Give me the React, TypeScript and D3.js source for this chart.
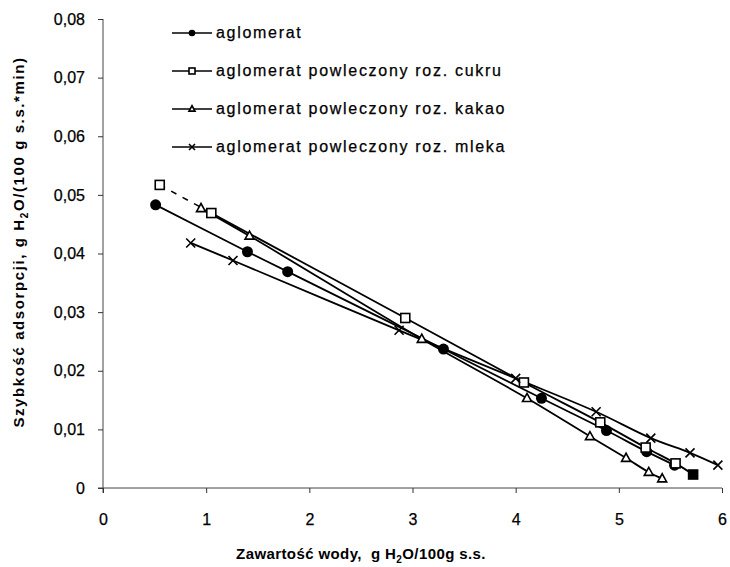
import * as d3 from 'd3';
import React, { useRef, useEffect } from 'react';

const aglomeratX = [0.51, 1.40, 1.79, 3.30, 4.25, 4.88, 5.27, 5.54]
const aglomeratY = [0.0483, 0.0403, 0.0369, 0.0237, 0.0153, 0.0098, 0.0062, 0.0039]

const cukruX = [0.55, 1.05, 2.93, 4.08, 4.82, 5.26, 5.55, 5.72]
const cukruY = [0.0517, 0.0469, 0.0290, 0.0180, 0.0112, 0.0069, 0.0042, 0.0023]

const kakaoX = [0.95, 1.42, 3.09, 4.11, 4.72, 5.07, 5.29, 5.42]
const kakaoY = [0.0477, 0.0430, 0.0254, 0.0153, 0.0088, 0.0051, 0.0027, 0.0016]

const mlekaX = [0.85, 1.26, 2.87, 4.00, 4.78, 5.31, 5.69, 5.96]
const mlekaY = [0.0418, 0.0388, 0.0269, 0.0187, 0.0130, 0.0085, 0.0060, 0.0039]

const seriesNames = [
    'aglomerat',
    'aglomerat powleczony roz. cukru',
    'aglomerat powleczony roz. kakao',
    'aglomerat powleczony roz. mleka',
]
const markers = ['circle', 'square', 'triangle', 'cross']

const xTicks = [0, 1, 2, 3, 4, 5, 6]
const yTicks = [0, 0.01, 0.02, 0.03, 0.04, 0.05, 0.06, 0.07, 0.08]

const zip = (xs: number[], ys: number[]) => xs.map((x, i) => ({ x, y: ys[i] }))

export default function App() {
    const ref = useRef<HTMLDivElement>(null)

    useEffect(() => {
        const width = 730
        const height = 567
        const font = '"Liberation Sans", Arial, sans-serif'

        document.body.style.margin = '0'
        d3.select(ref.current).selectAll('svg').remove()

        const svg = d3.select(ref.current)
            .append('svg')
            .attr('width', width)
            .attr('height', height)
            .style('display', 'block')
            .style('background', '#fff')
            .style('font-family', font)

        const x = d3.scaleLinear().domain([0, 6]).range([103, 722])
        const y = d3.scaleLinear().domain([0, 0.08]).range([488, 19])

        // osie
        const yAxis = d3.axisLeft(y)
            .tickValues(yTicks)
            .tickSize(5)
            .tickPadding(13)
            .tickFormat(d => d === 0 ? '0' : d3.format('.2f')(d as number).replace('.', ','))

        svg.append('g')
            .attr('transform', `translate(${x(0)},0)`)
            .call(yAxis)
            .call(g => g.select('.domain').attr('d', `M0,${y(0.08)}V${y(0) + 5}`).attr('stroke', '#444'))
            .call(g => g.selectAll('.tick line').attr('stroke', '#333'))
            .call(g => g.selectAll('text')
                .style('font-size', '16px')
                .style('font-family', font)
                .attr('fill', '#000')
                .attr('stroke', '#000')
                .attr('stroke-width', 0.25))

        const xAxis = d3.axisBottom(x)
            .tickValues(xTicks)
            .tickSize(5)
            .tickPadding(21)
            .tickFormat(d3.format('d'))

        svg.append('g')
            .attr('transform', `translate(0,${y(0)})`)
            .call(xAxis)
            .call(g => g.select('.domain').attr('d', `M${x(0) - 5},0H${x(6)}`).attr('stroke', '#444'))
            .call(g => g.selectAll('.tick line').attr('stroke', '#333'))
            .call(g => g.selectAll('text')
                .style('font-size', '16px')
                .style('font-family', font)
                .attr('fill', '#000')
                .attr('stroke', '#000')
                .attr('stroke-width', 0.25))

        // tytuły osi
        const yTitle = svg.append('text')
            .attr('transform', `translate(24,${242}) rotate(-90)`)
            .attr('text-anchor', 'middle')
            .style('font-size', '15px')
            .style('font-weight', 'bold')
            .style('letter-spacing', '1.6px')
        yTitle.append('tspan').text('Szybkość adsorpcji, g H')
        yTitle.append('tspan').attr('dy', 4).style('font-size', '10px').text('2')
        yTitle.append('tspan').attr('dy', -4).text('O/(100 g s.s.*min)')

        const xTitle = svg.append('text')
            .attr('x', 361)
            .attr('y', 559)
            .attr('text-anchor', 'middle')
            .style('font-size', '15px')
            .style('font-weight', 'bold')
            .style('letter-spacing', '0.4px')
        xTitle.append('tspan').text('Zawartość wody,\u00a0 g H')
        xTitle.append('tspan').attr('dy', 4).style('font-size', '10px').text('2')
        xTitle.append('tspan').attr('dy', -4).text('O/100g s.s.')

        const series = [
            zip(aglomeratX, aglomeratY),
            zip(cukruX, cukruY),
            zip(kakaoX, kakaoY),
            zip(mlekaX, mlekaY),
        ]

        const line = d3.line<{ x: number, y: number }>()
            .x(d => x(d.x))
            .y(d => y(d.y))
            .curve(d3.curveCatmullRom.alpha(0.5))

        const plot = svg.append('g')

        series.forEach((data, i) => {
            if (i === 1) {
                // pierwszy odcinek przerywany
                plot.append('path')
                    .datum(data.slice(0, 2))
                    .attr('d', d3.line<{ x: number, y: number }>().x(d => x(d.x)).y(d => y(d.y)))
                    .attr('fill', 'none')
                    .attr('stroke', '#000')
                    .attr('stroke-width', 1.5)
                    .attr('stroke-dasharray', '6,7')
                plot.append('path')
                    .datum(data.slice(1))
                    .attr('d', line)
                    .attr('fill', 'none')
                    .attr('stroke', '#000')
                    .attr('stroke-width', 1.8)
            } else {
                plot.append('path')
                    .datum(data)
                    .attr('d', line)
                    .attr('fill', 'none')
                    .attr('stroke', '#000')
                    .attr('stroke-width', 1.8)
            }
        })

        const drawMarker = (g: any, type: string, cx: number, cy: number, s: number, filled = false) => {
            if (type === 'circle') {
                g.append('circle').attr('cx', cx).attr('cy', cy).attr('r', s * 0.55)
                    .attr('fill', '#000')
            } else if (type === 'square') {
                g.append('rect').attr('x', cx - s / 2).attr('y', cy - s / 2)
                    .attr('width', s).attr('height', s)
                    .attr('fill', filled ? '#000' : '#fff').attr('stroke', '#000').attr('stroke-width', 1.6)
            } else if (type === 'triangle') {
                const h = s * 0.9
                g.append('path')
                    .attr('d', `M${cx},${cy - h * 0.6}L${cx + s / 2},${cy + h * 0.4}L${cx - s / 2},${cy + h * 0.4}Z`)
                    .attr('fill', '#fff').attr('stroke', '#000').attr('stroke-width', 1.6)
            } else {
                const r = s / 2
                g.append('path')
                    .attr('d', `M${cx - r},${cy - r}L${cx + r},${cy + r}M${cx - r},${cy + r}L${cx + r},${cy - r}`)
                    .attr('fill', 'none').attr('stroke', '#000').attr('stroke-width', 1.6)
            }
        }

        series.forEach((data, i) => {
            data.forEach((d, j) => {
                const filled = i === 1 && j === data.length - 1
                drawMarker(plot, markers[i], x(d.x), y(d.y), i === 0 ? 10 : 9, filled)
            })
        })

        // legenda
        const legendY = [33, 71, 109, 147]
        const legend = svg.append('g')
        seriesNames.forEach((name, i) => {
            legend.append('line')
                .attr('x1', 172).attr('x2', 212)
                .attr('y1', legendY[i]).attr('y2', legendY[i])
                .attr('stroke', '#000').attr('stroke-width', 1.5)
            drawMarker(legend, markers[i], 192, legendY[i], 6)
            legend.append('text')
                .attr('x', 216)
                .attr('y', legendY[i] + 5)
                .style('font-size', '16px')
                .style('letter-spacing', '1.7px')
                .attr('stroke', '#000')
                .attr('stroke-width', 0.25)
                .text(name)
        })
    }, [])

    return <div ref={ref} />
}
